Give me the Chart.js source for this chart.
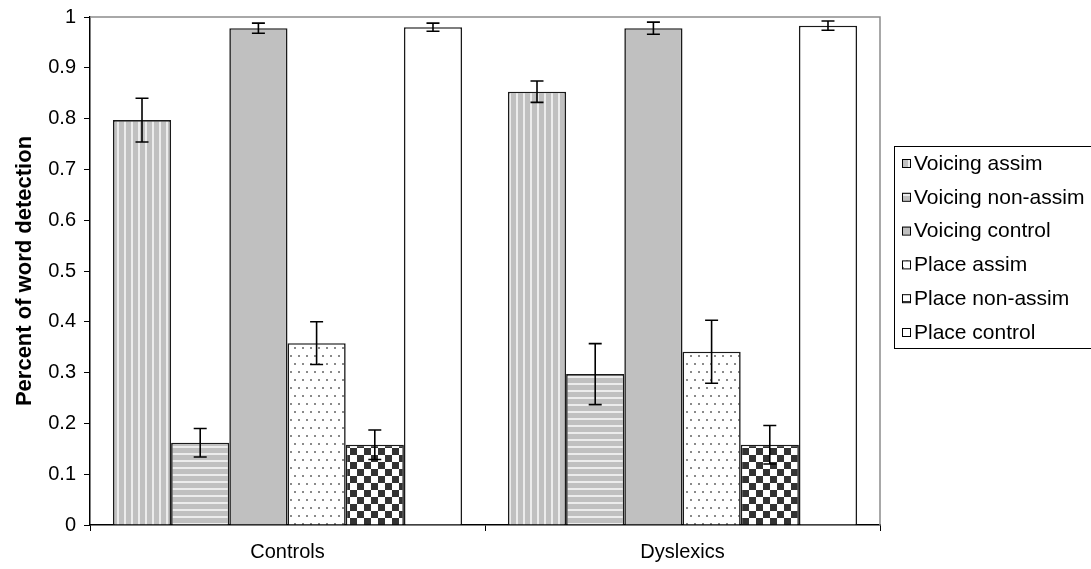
<!DOCTYPE html>
<html><head><meta charset="utf-8">
<script src="https://cdn.jsdelivr.net/npm/chart.js@4"></script>
<style>html,body{margin:0;padding:0;background:#fff}</style>
</head><body>
<canvas id="c" width="1091" height="569"></canvas>
<script>
const categories = ['Controls', 'Dyslexics'];
const seriesNames = ['Voicing assim', 'Voicing non-assim', 'Voicing control', 'Place assim', 'Place non-assim', 'Place control'];
const voicingAssim    = [0.797, 0.853];
const voicingNonAssim = [0.162, 0.297];
const voicingControl  = [0.978, 0.978];
const placeAssim      = [0.358, 0.341];
const placeNonAssim   = [0.158, 0.158];
const placeControl    = [0.980, 0.983];
const voicingAssimErr    = [0.043, 0.021];
const voicingNonAssimErr = [0.028, 0.060];
const voicingControlErr  = [0.010, 0.012];
const placeAssimErr      = [0.042, 0.062];
const placeNonAssimErr   = [0.029, 0.038];
const placeControlErr    = [0.008, 0.009];
const yTickLabels = ['0', '0.1', '0.2', '0.3', '0.4', '0.5', '0.6', '0.7', '0.8', '0.9', '1'];
const yTitle = 'Percent of word detection';

const FONT = '"Liberation Sans", Arial, sans-serif';
const canvas = document.getElementById('c');
const ctx = canvas.getContext('2d');

function makePattern(kind) {
  const c = document.createElement('canvas');
  const x = c.getContext('2d');
  if (kind === 'vstripe') {
    c.width = 7; c.height = 7;
    x.fillStyle = '#c0c0c0'; x.fillRect(0, 0, 7, 7);
    x.fillStyle = '#ececec'; x.fillRect(5, 0, 2, 7);
  } else if (kind === 'hstripe') {
    c.width = 7; c.height = 7;
    x.fillStyle = '#c0c0c0'; x.fillRect(0, 0, 7, 7);
    x.fillStyle = '#ececec'; x.fillRect(0, 5, 7, 2);
  } else if (kind === 'solid') {
    c.width = 4; c.height = 4;
    x.fillStyle = '#c0c0c0'; x.fillRect(0, 0, 4, 4);
  } else if (kind === 'dots') {
    c.width = 8; c.height = 16;
    x.fillStyle = '#ffffff'; x.fillRect(0, 0, 8, 16);
    x.fillStyle = '#8a8a8a'; x.fillRect(2, 3, 2, 2); x.fillRect(6, 11, 2, 2);
  } else if (kind === 'checker') {
    c.width = 14; c.height = 14;
    x.fillStyle = '#ffffff'; x.fillRect(0, 0, 14, 14);
    x.fillStyle = '#333333'; x.fillRect(0, 0, 7, 7); x.fillRect(7, 7, 7, 7);
  } else {
    c.width = 4; c.height = 4;
    x.fillStyle = '#ffffff'; x.fillRect(0, 0, 4, 4);
  }
  return ctx.createPattern(c, 'repeat');
}

const seriesValues = [voicingAssim, voicingNonAssim, voicingControl, placeAssim, placeNonAssim, placeControl];
const seriesErrors = [voicingAssimErr, voicingNonAssimErr, voicingControlErr, placeAssimErr, placeNonAssimErr, placeControlErr];
const kinds = ['vstripe', 'hstripe', 'solid', 'dots', 'checker', 'white'];

const datasets = seriesNames.map((name, i) => ({
  label: name,
  data: seriesValues[i],
  errors: seriesErrors[i],
  backgroundColor: makePattern(kinds[i]),
  borderColor: '#1a1a1a',
  borderWidth: 1.6,
  borderSkipped: 'bottom',
  categoryPercentage: 0.884,
  barPercentage: 1.0
}));

const framePlugin = {
  id: 'frame',
  beforeDatasetsDraw(chart) {
    const a = chart.chartArea, c = chart.ctx;
    c.save();
    c.strokeStyle = '#8c8c8c'; c.lineWidth = 1.5;
    c.beginPath();
    c.moveTo(a.left, a.top); c.lineTo(a.right, a.top); c.lineTo(a.right, a.bottom);
    c.stroke();
    c.restore();
  }
};

const errorBarPlugin = {
  id: 'errbars',
  afterDatasetsDraw(chart) {
    const c = chart.ctx, ys = chart.scales.y;
    c.save();
    c.strokeStyle = '#000'; c.lineWidth = 1.6;
    chart.data.datasets.forEach((ds, i) => {
      const meta = chart.getDatasetMeta(i);
      meta.data.forEach((el, j) => {
        const v = ds.data[j], e = ds.errors[j];
        const yh = ys.getPixelForValue(v + e), yl = ys.getPixelForValue(v - e);
        const x = el.x;
        c.beginPath();
        c.moveTo(x, yh); c.lineTo(x, yl);
        c.moveTo(x - 6.5, yh); c.lineTo(x + 6.5, yh);
        c.moveTo(x - 6.5, yl); c.lineTo(x + 6.5, yl);
        c.stroke();
      });
    });
    c.restore();
  }
};

const legendPlugin = {
  id: 'boxLegend',
  afterDraw(chart) {
    const c = chart.ctx;
    const bx = 894, by = 146, bw = 220, bh = 202;
    c.save();
    c.strokeStyle = '#000'; c.lineWidth = 1;
    c.strokeRect(bx + 0.5, by + 0.5, bw, bh);
    c.font = '21px ' + FONT;
    c.textBaseline = 'middle';
    c.fillStyle = '#000';
    chart.data.datasets.forEach((ds, i) => {
      const cy = by + 17 + i * 33.8;
      c.fillStyle = ds.backgroundColor;
      c.fillRect(902, cy - 4, 8, 8);
      c.strokeStyle = '#000'; c.lineWidth = 1;
      c.strokeRect(902.5, cy - 3.5, 8, 8);
      c.fillStyle = '#000';
      c.fillText(ds.label, 914, cy + 1);
    });
    c.restore();
  }
};

new Chart(canvas, {
  type: 'bar',
  data: { labels: categories, datasets },
  options: {
    responsive: false,
    animation: false,
    devicePixelRatio: 1,
    layout: { padding: { top: 17, right: 211, left: 0, bottom: 0 } },
    plugins: { legend: { display: false }, tooltip: { enabled: false } },
    scales: {
      x: {
        afterFit(s) { s.height = 44; s.paddingLeft = 0; s.paddingRight = 0; },
        grid: { display: true, drawOnChartArea: false, drawTicks: true, tickLength: 6, color: '#000', offset: true },
        border: { display: true, color: '#000', width: 1.5 },
        ticks: { color: '#000', font: { family: FONT, size: 20 }, padding: 9 }
      },
      y: {
        min: 0, max: 1,
        afterFit(s) { s.width = 90; s.paddingTop = 0; s.paddingBottom = 0; },
        grid: { display: true, drawOnChartArea: false, drawTicks: true, tickLength: 6, color: '#000' },
        border: { display: true, color: '#000', width: 1.5 },
        ticks: {
          stepSize: 0.1, color: '#000', font: { family: FONT, size: 20 }, padding: 8,
          callback: (v, i) => yTickLabels[i]
        },
        title: {
          display: true, text: yTitle, color: '#000',
          font: { family: FONT, size: 22, weight: 'bold' }, padding: { top: 12, bottom: 0 }
        }
      }
    }
  },
  plugins: [framePlugin, errorBarPlugin, legendPlugin]
});
</script>
</body></html>
